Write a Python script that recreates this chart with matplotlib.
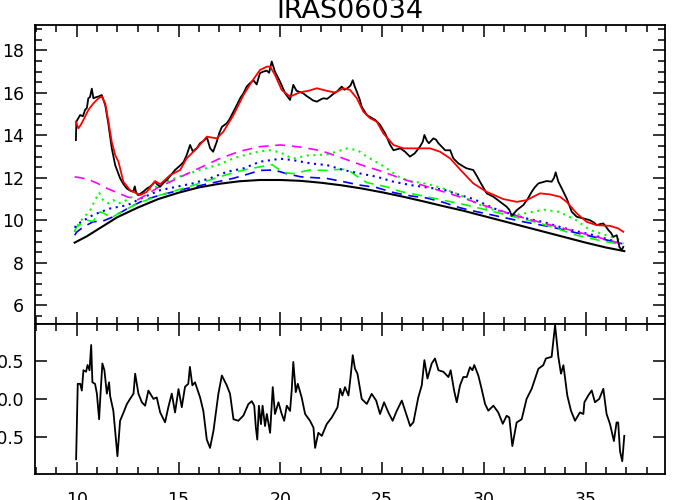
import numpy as np
import matplotlib
matplotlib.use('Agg')
import matplotlib.pyplot as plt
from matplotlib.ticker import MultipleLocator

# observed spectrum (black)
wave_obs = [9.96, 9.98, 10.17, 10.3, 10.41, 10.5, 10.57, 10.65, 10.74, 10.82, 10.95, 11.07, 11.23, 11.4,
            11.56, 11.72, 11.89, 12.13, 12.3, 12.46, 12.62, 12.78, 12.85, 12.92, 13.03, 13.27, 13.45, 13.6,
            13.85, 13.95, 14.1, 14.25, 14.43, 14.6, 14.83, 15.1, 15.25, 15.4, 15.57, 15.7, 15.9, 16.06,
            16.25, 16.4, 16.55, 16.7, 16.88, 17.0, 17.13, 17.37, 17.5, 17.7, 17.85, 18.03, 18.2, 18.35,
            18.5, 18.68, 18.84, 19.0, 19.15, 19.34, 19.45, 19.58, 19.74, 19.99, 20.24, 20.48, 20.64, 20.8,
            20.95, 21.13, 21.3, 21.46, 21.6, 21.8, 22.0, 22.12, 22.3, 22.45, 22.6, 22.78, 23.02, 23.15,
            23.3, 23.45, 23.56, 23.66, 23.76, 23.9, 24.0, 24.25, 24.45, 24.66, 24.9, 25.15, 25.4, 25.56,
            25.75, 25.9, 26.13, 26.37, 26.6, 26.86, 27.0, 27.08, 27.2, 27.3, 27.52, 27.65, 27.77, 27.95,
            28.1, 28.35, 28.5, 28.75, 29.0, 29.15, 29.48, 29.65, 29.81, 30.0, 30.14, 30.47, 30.8, 31.12,
            31.25, 31.37, 31.5, 31.62, 31.94, 32.15, 32.35, 32.5, 32.68, 32.9, 33.09, 33.33, 33.45, 33.53,
            33.66, 33.83, 34.07, 34.2, 34.32, 34.56, 34.75, 34.89, 35.05, 35.22, 35.4, 35.55, 35.7, 35.87,
            36.0, 36.12, 36.25, 36.36, 36.53, 36.66, 36.77, 36.85]
flux_obs = [13.78, 14.65, 14.96, 14.9, 15.2, 15.3, 15.75, 15.8, 16.2, 15.75, 15.8, 15.83, 15.9, 15.43,
            14.5, 13.4, 12.6, 11.98, 11.7, 11.5, 11.4, 11.35, 11.6, 11.3, 11.19, 11.35, 11.5, 11.58,
            11.82, 11.7, 11.58, 11.75, 11.9, 12.1, 12.37, 12.6, 12.75, 13.07, 13.55, 13.25, 13.4, 13.63,
            13.75, 13.9, 13.4, 13.23, 13.7, 14.1, 14.4, 14.57, 14.75, 15.12, 15.4, 15.75, 16.0, 16.3,
            16.45, 16.6, 16.4, 16.93, 17.0, 17.05, 16.95, 17.48, 17.0, 16.53, 15.98, 15.67, 16.38, 16.1,
            16.05, 15.98, 15.85, 15.75, 15.65, 15.59, 15.7, 15.75, 15.72, 15.83, 15.95, 16.06, 16.3, 16.15,
            16.22, 16.35, 16.6, 16.3, 16.06, 15.7, 15.35, 14.96, 14.85, 14.73, 14.5, 14.1, 13.55, 13.3,
            13.35, 13.39, 13.23, 13.0, 13.15, 13.47, 13.7, 14.02, 13.75, 13.63, 13.86, 13.8, 13.63, 13.45,
            13.3, 13.3, 12.92, 12.68, 12.53, 12.45, 12.37, 12.1, 11.82, 11.5, 11.27, 11.11, 10.87, 10.64,
            10.5, 10.21, 10.35, 10.48, 10.72, 11.0, 11.34, 11.55, 11.74, 11.8, 11.85, 11.82, 12.0, 12.26,
            11.82, 11.5, 11.03, 10.7, 10.4, 10.17, 10.12, 10.09, 10.05, 10.0, 9.9, 9.77, 9.82, 9.85,
            9.7, 9.54, 9.4, 9.22, 9.3, 8.75, 8.59, 8.75]

# total model (red)
wave_fit = [9.96, 10.08, 10.2, 10.33, 10.57, 10.82, 11.07, 11.23, 11.4, 11.56, 11.72, 11.89, 12.05, 12.29,
            12.62, 13.11, 13.44, 13.85, 14.1, 14.59, 15.08, 15.4, 15.9, 16.39, 16.88, 17.2, 17.7, 18.19,
            18.6, 19.0, 19.34, 19.5, 19.74, 20.07, 20.48, 20.97, 21.38, 21.8, 22.28, 22.69, 23.1, 23.43,
            23.76, 24.08, 24.41, 24.74, 25.06, 25.56, 26.05, 26.7, 27.36, 27.85, 28.34, 28.83, 29.48,
            30.14, 30.96, 31.62, 32.1, 32.76, 33.25, 33.74, 34.07, 34.56, 35.05, 35.55, 36.2, 36.6, 36.85]
flux_fit = [14.65, 14.33, 14.5, 14.73, 15.2, 15.51, 15.75, 15.83, 15.51, 14.65, 13.7, 13.07, 12.76, 11.82,
            11.42, 11.19, 11.34, 11.85, 11.7, 12.13, 12.37, 12.92, 13.39, 13.94, 13.86, 14.17, 14.96, 15.9,
            16.53, 17.08, 17.24, 17.24, 16.85, 16.14, 15.83, 16.03, 16.1, 16.22, 16.1, 16.02, 16.22, 16.14,
            15.75, 15.12, 14.81, 14.65, 14.1, 13.55, 13.39, 13.39, 13.39, 13.23, 12.92, 12.4, 11.74,
            11.34, 11.0, 10.87, 10.95, 11.27, 11.22, 11.11, 10.87, 10.33, 9.93, 9.77, 9.74, 9.62, 9.46]

# continuum (black smooth)
wave_cont = [9.9, 10.5, 11, 12, 13, 14, 15, 16, 17, 18, 19, 20, 21, 22, 23, 24, 25, 26, 27, 28, 29, 30,
             31, 32, 33, 34, 35, 36, 36.9]
flux_cont = [8.95, 9.25, 9.55, 10.15, 10.6, 11.0, 11.3, 11.55, 11.72, 11.84, 11.9, 11.9, 11.86, 11.77,
             11.65, 11.5, 11.32, 11.12, 10.9, 10.67, 10.45, 10.2, 9.95, 9.7, 9.45, 9.2, 8.95, 8.72, 8.55]

# magenta dashed component
wave_mag = [9.9, 10.5, 11, 11.5, 12, 12.5, 13, 13.5, 14, 15, 16, 17, 18, 19, 20, 21, 22, 23, 24, 25, 26,
            27, 28, 29, 30, 31, 32, 33, 34, 35, 36, 36.9]
flux_mag = [12.05, 11.95, 11.75, 11.5, 11.3, 11.1, 10.97, 11.25, 11.55, 12.0, 12.45, 12.9, 13.25, 13.47,
            13.55, 13.45, 13.28, 12.95, 12.6, 12.3, 11.95, 11.65, 11.35, 11.05, 10.7, 10.4, 10.1, 9.85,
            9.6, 9.35, 9.1, 8.85]

# green dotted component
wave_gdot = [9.9, 10.0, 10.3, 10.65, 10.9, 11.1, 11.3, 11.55, 11.8, 12.05, 12.3, 12.55, 13.3, 13.9, 14.6,
             15.25, 16.05, 16.9, 17.7, 18.35, 19.0, 19.5, 20.0, 20.6, 21.3, 22.3, 23.3, 23.8, 24.25, 25.07,
             25.9, 26.4, 27.2, 28.0, 28.8, 29.5, 30.1, 30.8, 31.6, 32.4, 32.95, 33.7, 34.55, 35.2, 36.0, 36.8]
flux_gdot = [9.45, 9.7, 10.1, 10.45, 10.95, 11.3, 10.95, 10.8, 10.95, 10.8, 10.87, 11.03, 11.34, 11.58, 11.9,
             12.13, 12.37, 12.6, 12.92, 13.1, 13.25, 13.3, 13.2, 12.9, 13.05, 13.1, 13.39, 13.3, 13.0, 12.55,
             12.0, 11.85, 11.72, 11.5, 11.2, 10.87, 10.6, 10.4, 10.25, 10.4, 10.5, 10.4, 10.0, 9.55, 9.3, 9.05]

# blue dotted component
wave_bdot = [9.9, 10.0, 10.8, 11.6, 12.5, 13.3, 14.1, 14.9, 15.7, 16.55, 17.4, 18.2, 19.0, 20.0, 20.6, 21.5,
             22.3, 23.1, 23.9, 24.75, 25.55, 26.4, 27.2, 28.0, 28.8, 29.5, 30.5, 31.3, 32.1, 33.0, 33.7,
             34.5, 35.4, 36.85]
flux_bdot = [9.65, 9.8, 10.25, 10.55, 10.72, 11.1, 11.42, 11.58, 11.74, 11.98, 12.29, 12.45, 12.76, 12.9,
             12.84, 12.68, 12.6, 12.37, 12.21, 12.05, 11.82, 11.66, 11.55, 11.45, 11.2, 11.0, 10.56, 10.3,
             10.09, 9.9, 9.7, 9.5, 9.3, 8.9]

# green dashed component
wave_gdash = [9.9, 10.0, 10.5, 10.8, 11.15, 11.4, 11.7, 12.0, 12.5, 13.0, 14.1, 15.4, 16.7, 17.7, 18.35,
              19.0, 19.6, 20.15, 20.65, 21.45, 22.3, 22.9, 23.3, 23.76, 24.25, 25.2, 25.9, 27.5, 29.15,
              30.8, 32.4, 33.25, 34.55, 35.7, 36.8]
flux_gdash = [9.5, 9.7, 10.0, 9.95, 10.4, 10.3, 10.1, 10.3, 10.55, 10.8, 11.19, 11.55, 11.95, 12.25, 12.4,
              12.52, 12.62, 12.25, 12.2, 12.37, 12.35, 12.4, 12.4, 12.08, 11.78, 11.58, 11.36, 11.05, 10.72,
              10.33, 9.95, 9.72, 9.3, 9.05, 8.85]

# blue dashed component
wave_bdash = [9.9, 10.0, 10.35, 10.8, 11.3, 11.8, 12.5, 13.3, 14.1, 15.4, 16.55, 17.7, 18.35, 19.0, 19.7,
              20.3, 21.0, 22.3, 23.1, 23.9, 24.7, 25.6, 26.4, 27.2, 28.0, 28.8, 29.3, 30.8, 32.0, 33.25,
              34.5, 35.7, 36.8]
flux_bdash = [9.3, 9.45, 9.7, 9.93, 9.97, 10.17, 10.56, 10.95, 11.19, 11.5, 11.74, 11.98, 12.16, 12.35, 12.37,
              12.2, 12.05, 11.97, 11.82, 11.66, 11.55, 11.3, 11.15, 11.05, 10.85, 10.6, 10.48, 10.17, 9.92,
              9.7, 9.42, 9.15, 8.9]

# residuals (bottom panel)
wave_res = [9.97, 10.05, 10.17, 10.25, 10.33, 10.46, 10.53, 10.63, 10.71, 10.77, 10.9, 10.99, 11.1, 11.15,
            11.26, 11.36, 11.48, 11.59, 11.64, 11.8, 12.0, 12.13, 12.3, 12.46, 12.62, 12.79, 12.87, 13.03,
            13.2, 13.36, 13.52, 13.77, 13.93, 14.1, 14.34, 14.5, 14.67, 14.83, 15.0, 15.16, 15.32, 15.48,
            15.56, 15.68, 15.81, 16.06, 16.22, 16.39, 16.55, 16.72, 16.96, 17.13, 17.37, 17.53, 17.7,
            17.94, 18.19, 18.43, 18.6, 18.72, 18.8, 18.87, 18.95, 19.05, 19.13, 19.25, 19.34, 19.5,
            19.63, 19.74, 19.91, 20.07, 20.19, 20.32, 20.48, 20.56, 20.64, 20.76, 20.86, 21.05, 21.22,
            21.46, 21.63, 21.71, 21.87, 22.04, 22.28, 22.53, 22.81, 22.94, 23.05, 23.18, 23.35, 23.46,
            23.56, 23.67, 23.79, 24.0, 24.25, 24.49, 24.71, 24.9, 25.1, 25.31, 25.52, 25.72, 25.97, 26.21,
            26.38, 26.54, 26.78, 26.95, 27.08, 27.23, 27.44, 27.6, 27.77, 28.01, 28.26, 28.37, 28.54,
            28.67, 28.83, 28.99, 29.16, 29.32, 29.44, 29.53, 29.73, 29.89, 30.06, 30.22, 30.47, 30.71,
            30.93, 31.12, 31.25, 31.4, 31.61, 31.86, 32.1, 32.35, 32.68, 32.92, 33.05, 33.33, 33.5, 33.66,
            33.79, 33.91, 34.1, 34.28, 34.48, 34.72, 34.89, 34.94, 35.13, 35.3, 35.46, 35.67, 35.87, 36.03,
            36.2, 36.39, 36.52, 36.6, 36.69, 36.8, 36.9]
res = [-0.8, 0.2, 0.2, 0.11, 0.38, 0.36, 0.45, 0.38, 0.715, 0.22, 0.2, 0.07, -0.27, -0.02,
       0.47, 0.38, 0.07, 0.22, 0.04, -0.16, -0.76, -0.29, -0.18, -0.07, 0.0, 0.07, 0.335, 0.07,
       -0.045, -0.09, 0.11, 0.0, 0.02, -0.18, -0.31, -0.11, 0.07, -0.18, 0.13, -0.11, 0.16, 0.2,
       0.425, 0.18, 0.22, 0.02, -0.16, -0.54, -0.65, -0.42, 0.07, 0.31, 0.18, 0.07, -0.27,
       -0.29, -0.22, -0.07, -0.03, -0.09, -0.38, -0.54, -0.09, -0.335, -0.09, -0.36, -0.2, -0.45,
       0.156, -0.2, -0.045, -0.2, -0.29, -0.09, -0.16, 0.11, 0.49, 0.09, 0.2, 0.02, -0.2,
       -0.29, -0.38, -0.65, -0.45, -0.49, -0.335, -0.246, -0.112, 0.134, 0.045, 0.156, 0.045, 0.31,
       0.58, 0.4, 0.335, 0.0, -0.067, 0.067, -0.022, -0.2, -0.045, -0.18, -0.29, -0.16, -0.022, -0.22,
       -0.36, -0.31, 0.02, 0.18, 0.514, 0.27, 0.47, 0.536, 0.38, 0.36, 0.29, 0.38, 0.11,
       -0.045, 0.18, 0.29, 0.29, 0.42, 0.38, 0.45, 0.31, 0.134, -0.067, -0.156, -0.09, -0.18,
       -0.33, -0.224, -0.246, -0.626, -0.313, -0.27, 0.0, 0.134, 0.4, 0.447, 0.536, 0.558, 0.98, 0.558,
       0.335, 0.447, 0.045, -0.156, -0.29, -0.18, -0.2, -0.045, 0.045, 0.112, -0.045, 0.0, 0.134, -0.2,
       -0.335, -0.559, -0.313, -0.313, -0.693, -0.827, -0.49]

title = "IRAS06034"


def style_axis(ax):
    for s in ax.spines.values():
        s.set_linewidth(1.3)
    ax.tick_params(which='both', direction='in', top=True, right=True, width=1.1,
                   labelsize=12.5, pad=8)
    ax.tick_params(which='major', length=8.5)
    ax.tick_params(which='minor', length=4.8)
    ax.xaxis.set_major_locator(MultipleLocator(5))
    ax.xaxis.set_minor_locator(MultipleLocator(1))


def main():
    fig = plt.figure(figsize=(7, 5), dpi=100)
    ax1 = fig.add_axes([0.05, 0.353, 0.9, 0.597])
    ax2 = fig.add_axes([0.05, 0.0514, 0.9, 0.3016])

    ax1.plot(wave_cont, flux_cont, color='black', lw=1.5)
    ax1.plot(wave_bdash, flux_bdash, color='blue', lw=1.2, dashes=(6, 4))
    ax1.plot(wave_gdash, flux_gdash, color='lime', lw=1.2, dashes=(6, 4))
    ax1.plot(wave_bdot, flux_bdot, color='blue', lw=1.5, dashes=(1, 2.2))
    ax1.plot(wave_gdot, flux_gdot, color='lime', lw=1.5, dashes=(1, 2.2))
    ax1.plot(wave_mag, flux_mag, color='magenta', lw=1.2, dashes=(6, 4))
    ax1.plot(wave_obs, flux_obs, color='black', lw=1.3)
    ax1.plot(wave_fit, flux_fit, color='red', lw=1.3)

    ax1.set_xlim(7.95, 38.9)
    ax1.set_ylim(5.14, 19.2)
    ax1.yaxis.set_major_locator(MultipleLocator(2))
    ax1.yaxis.set_minor_locator(MultipleLocator(0.5))
    style_axis(ax1)
    ax1.set_xticklabels([])
    ax1.set_yticks([6, 8, 10, 12, 14, 16, 18])

    ax2.plot(wave_res, res, color='black', lw=1.3)
    ax2.set_xlim(7.95, 38.9)
    ax2.set_ylim(-1, 1)
    ax2.set_yticks([-0.5, 0.0, 0.5])
    ax2.set_yticklabels(['-0.5', '0.0', '0.5'])
    style_axis(ax2)
    ax2.tick_params(axis='x', pad=12)
    ax2.set_xticks([10, 15, 20, 25, 30, 35])

    fig.text(0.5, 0.964, title, ha='center', va='baseline', fontsize=19.5)

    plt.savefig('out.png', dpi=100)


main()
